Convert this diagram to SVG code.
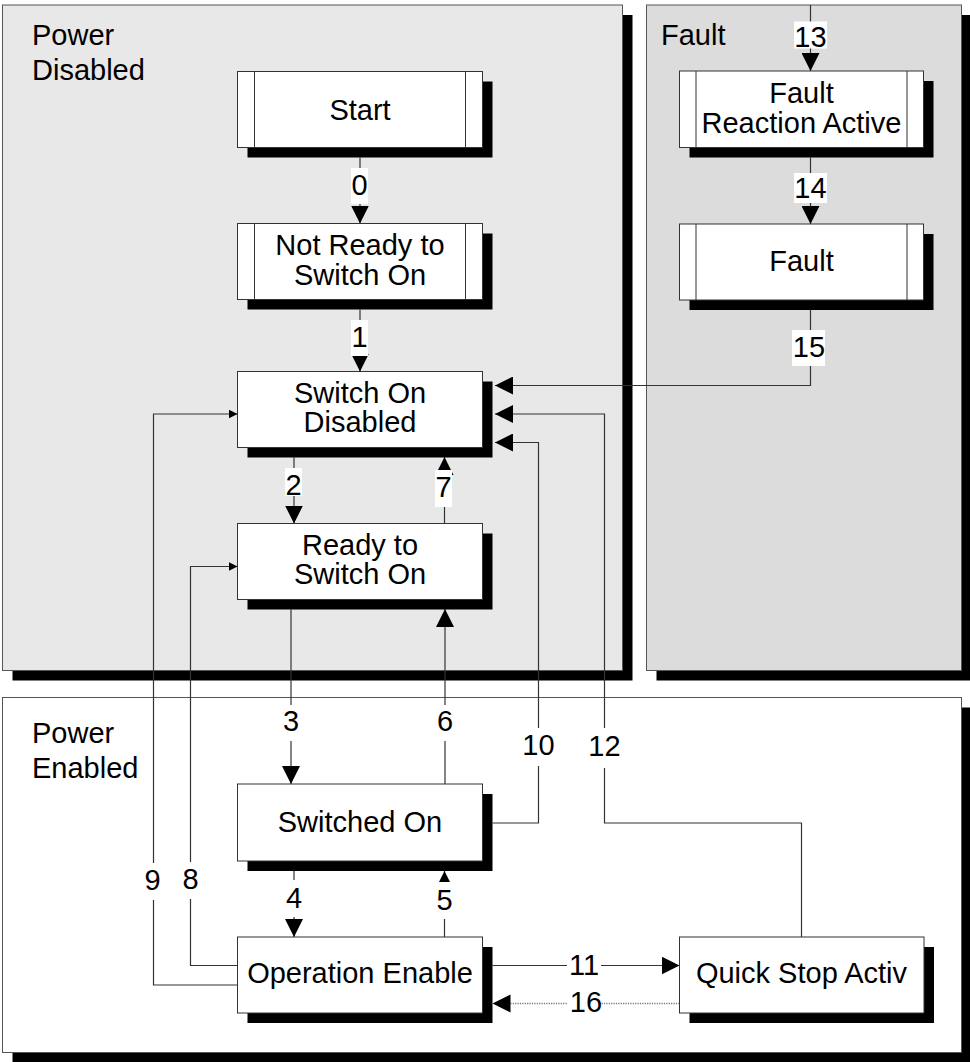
<svg xmlns="http://www.w3.org/2000/svg" width="970" height="1062" viewBox="0 0 970 1062">
<defs>
<style>
text{font-family:"Liberation Sans",Arial,Helvetica,sans-serif;font-size:29px;fill:#000}
.c{text-anchor:middle}
.panel{stroke:#555;stroke-width:1}
.sh{fill:#000}
.box{fill:#fff;stroke:#333;stroke-width:1}
.in{stroke:#333;stroke-width:1}
.ln{fill:none;stroke:#333;stroke-width:1.2}
.dot{fill:none;stroke:#777;stroke-width:1.4;stroke-dasharray:1.2 1.2}
.lb{fill:#fff}
</style>
<marker id="ah" markerUnits="userSpaceOnUse" markerWidth="18" markerHeight="18" refX="18" refY="9" orient="auto"><path d="M0,0 L18,9 L0,18 z" fill="#000"/></marker>
<marker id="as" markerUnits="userSpaceOnUse" markerWidth="10" markerHeight="10" refX="9" refY="4.5" orient="auto"><path d="M0,0 L9,4.5 L0,9 z" fill="#000"/></marker>
</defs>
<rect width="970" height="1062" fill="#fff"/>
<g id="panel-power-disabled">
<rect class="sh" x="12.5" y="15" width="620" height="665.5"/>
<rect class="panel" x="2.5" y="5" width="620" height="665.5" fill="#e8e8e8"/>
<text x="32" y="45">Power</text><text x="32" y="80">Disabled</text>
</g>
<g id="panel-fault">
<rect class="sh" x="656.5" y="15" width="315" height="665.5"/>
<rect class="panel" x="646.5" y="5" width="315" height="665.5" fill="#dcdcdc"/>
<text x="661" y="45">Fault</text>
</g>
<g id="panel-power-enabled">
<rect class="sh" x="12.5" y="707.5" width="959" height="355"/>
<rect class="panel" x="2.5" y="697.5" width="959" height="355" fill="#fff"/>
<text x="32" y="743">Power</text><text x="32" y="778">Enabled</text>
</g>
<g id="connectors">
<path class="ln" d="M360,157.5 V223.5" marker-end="url(#ah)"/>
<path class="ln" d="M360,309.5 V371.5" marker-end="url(#ah)"/>
<path class="ln" d="M294,457.5 V523.5" marker-end="url(#ah)"/>
<path class="ln" d="M444.5,523.5 V457" marker-end="url(#ah)"/>
<path class="ln" d="M291,609.5 V784" marker-end="url(#ah)"/>
<path class="ln" d="M445,784 V609" marker-end="url(#ah)"/>
<path class="ln" d="M294,871 V937" marker-end="url(#ah)"/>
<path class="ln" d="M444.5,937 V871" marker-end="url(#ah)"/>
<path class="ln" d="M810.5,5 V71" marker-end="url(#ah)"/>
<path class="ln" d="M810.5,157.5 V224" marker-end="url(#ah)"/>
<path class="ln" d="M810.5,310 V385.5 H495" marker-end="url(#ah)"/>
<path class="ln" d="M801.5,937 V823 H604.5 V414 H495" marker-end="url(#ah)"/>
<path class="ln" d="M492.5,823 H538.5 V442.5 H495" marker-end="url(#ah)"/>
<path class="ln" d="M237.5,985 H153.5 V414 H237.5" marker-end="url(#as)"/>
<path class="ln" d="M237.5,965.5 H190.5 V566.5 H237.5" marker-end="url(#as)"/>
<path class="ln" d="M492.5,965.5 H679.5" marker-end="url(#ah)"/>
<path class="dot" d="M679.5,1003.5 H497"/>
<path d="M492.5,1003.5 L510.5,994.5 L510.5,1012.5 z" fill="#000"/>
</g>
<g id="node-start">
<rect class="sh" x="247.5" y="81.5" width="245" height="76"/>
<rect class="box" x="237.5" y="71.5" width="245" height="76"/>
<path class="in" d="M254.5,71.5 V147.5 M465.5,71.5 V147.5"/>
<text class="c" x="360" y="120">Start</text>
</g>
<g id="node-not-ready">
<rect class="sh" x="247.5" y="233.5" width="245" height="76"/>
<rect class="box" x="237.5" y="223.5" width="245" height="76"/>
<path class="in" d="M254.5,223.5 V299.5 M465.5,223.5 V299.5"/>
<text class="c" x="360" y="255">Not Ready to</text>
<text class="c" x="360" y="285">Switch On</text>
</g>
<g id="node-switch-on-disabled">
<rect class="sh" x="247.5" y="381.5" width="245" height="76"/>
<rect class="box" x="237.5" y="371.5" width="245" height="76"/>
<text class="c" x="360" y="403">Switch On</text>
<text class="c" x="360" y="432">Disabled</text>
</g>
<g id="node-ready">
<rect class="sh" x="247.5" y="533.5" width="245" height="76"/>
<rect class="box" x="237.5" y="523.5" width="245" height="76"/>
<text class="c" x="360" y="555">Ready to</text>
<text class="c" x="360" y="584">Switch On</text>
</g>
<g id="node-switched-on">
<rect class="sh" x="247.5" y="794" width="245" height="77"/>
<rect class="box" x="237.5" y="784" width="245" height="77"/>
<text class="c" x="360" y="832">Switched On</text>
</g>
<g id="node-operation-enable">
<rect class="sh" x="247.5" y="947" width="245" height="76"/>
<rect class="box" x="237.5" y="937" width="245" height="76"/>
<text class="c" x="360" y="983">Operation Enable</text>
</g>
<g id="node-quick-stop">
<rect class="sh" x="689.5" y="947" width="244.5" height="76"/>
<rect class="box" x="679.5" y="937" width="244.5" height="76"/>
<text class="c" x="801.5" y="983">Quick Stop Activ</text>
</g>
<g id="node-fault-reaction">
<rect class="sh" x="689.5" y="81" width="244" height="76.5"/>
<rect class="box" x="679.5" y="71" width="244" height="76.5"/>
<path class="in" d="M696,71 V147.5 M907,71 V147.5"/>
<text class="c" x="801.5" y="103">Fault</text>
<text class="c" x="801.5" y="133">Reaction Active</text>
</g>
<g id="node-fault">
<rect class="sh" x="689.5" y="234" width="244" height="76"/>
<rect class="box" x="679.5" y="224" width="244" height="76"/>
<path class="in" d="M696,224 V300 M907,224 V300"/>
<text class="c" x="801.5" y="271">Fault</text>
</g>
<g id="connector-labels">
<rect class="lb" x="351" y="168" width="17" height="36"/><text class="c" x="359.5" y="195">0</text>
<rect class="lb" x="351" y="320" width="17" height="36"/><text class="c" x="359.5" y="346.5">1</text>
<rect class="lb" x="285" y="468" width="17" height="28"/><text class="c" x="293.5" y="495">2</text>
<rect class="lb" x="435" y="470" width="17" height="37"/><text class="c" x="443.5" y="497">7</text>
<rect class="lb" x="282" y="705" width="18" height="36"/><text class="c" x="291" y="731">3</text>
<rect class="lb" x="436" y="705" width="18" height="36"/><text class="c" x="445" y="731">6</text>
<rect class="lb" x="521" y="728" width="35" height="38"/><text class="c" x="538.5" y="755">10</text>
<rect class="lb" x="587" y="728" width="35" height="40"/><text class="c" x="604.5" y="756">12</text>
<rect class="lb" x="144" y="863" width="18" height="37"/><text class="c" x="152.5" y="890">9</text>
<rect class="lb" x="182" y="862" width="18" height="37"/><text class="c" x="190.5" y="889">8</text>
<rect class="lb" x="285" y="880" width="18" height="37"/><text class="c" x="294" y="908">4</text>
<rect class="lb" x="436" y="882" width="18" height="37"/><text class="c" x="444.5" y="910">5</text>
<rect class="lb" x="567" y="952" width="34" height="26"/><text class="c" x="584" y="975">11</text>
<rect class="lb" x="567" y="990" width="34" height="25"/><text class="c" x="586" y="1012">16</text>
<rect class="lb" x="794" y="21.5" width="33" height="27"/><text class="c" x="810.5" y="46.5">13</text>
<rect class="lb" x="794" y="173" width="33" height="30"/><text class="c" x="810.5" y="198">14</text>
<rect class="lb" x="792" y="330" width="33" height="36"/><text class="c" x="809" y="356.5">15</text>
</g>
</svg>
